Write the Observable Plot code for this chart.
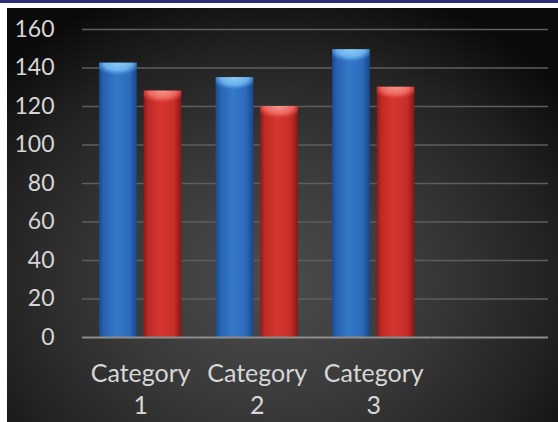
<!DOCTYPE html>
<html>
<head>
<meta charset="utf-8">
<script src="https://cdn.jsdelivr.net/npm/d3@7"></script>
<script src="https://cdn.jsdelivr.net/npm/@observablehq/plot@0.6"></script>
<style>
  html, body { margin: 0; padding: 0; background: #ffffff; width: 558px; height: 422px; overflow: hidden; }
  #topband { position: absolute; left: 0; top: 0; width: 558px; height: 3px; background: #2c2e7a; }
  #chart {
    position: absolute; left: 7px; top: 8px; width: 551px; height: 414px;
    background: radial-gradient(ellipse 68% 75% at 48% 66%, #4c4c4c 0%, #3a3a3a 40%, #222222 75%, #0a0a0a 100%);
  }
  #chart svg { display: block; overflow: visible; }
</style>
</head>
<body>
<div id="topband"></div>
<div id="chart"></div>
<script>
const categories = ["Category 1", "Category 2", "Category 3"];
const seriesNames = ["Series 1", "Series 2"];
const series1 = [142.5, 135, 149.5];
const series2 = [128, 120, 130];
const yTicks = [0, 20, 40, 60, 80, 100, 120, 140, 160];

const data = categories.flatMap((c, i) => [
  {category: c, series: seriesNames[0], value: series1[i]},
  {category: c, series: seriesNames[1], value: series2[i]}
]);

// one empty slot after the last category, as in the reference
const slots = [...categories, ""];
const gridCells = d3.cross(slots, yTicks.filter(t => t > 0));
const baseCells = slots.map(s => [s, 0]);

const svg = Plot.plot({
  width: 551,
  height: 414,
  marginLeft: 75,
  marginRight: 10,
  marginTop: 21,
  marginBottom: 85,
  style: {background: "transparent", color: "#d6d6d6", fontFamily: "Lato, 'Open Sans', sans-serif", fontSize: "23px"},
  fx: {domain: slots, padding: 0, round: false, label: null, axis: null},
  x: {domain: seriesNames, paddingInner: 0.155, paddingOuter: 0.384, round: false, axis: null},
  y: {domain: [0, 160], label: null, axis: null},
  color: {domain: seriesNames, range: ["url(#gradBlue)", "url(#gradRed)"]},
  marks: [
    Plot.ruleY(gridCells, {fx: d => d[0], y: d => d[1], stroke: "#5e5e5e", strokeWidth: 1.6}),
    Plot.barY(data, {fx: "category", x: "series", y: "value", fill: "series"}),
    Plot.barY(data.filter(d => d.series === seriesNames[0]), {fx: "category", x: "series", y1: "value", y2: "value", insetBottom: -13, fill: "url(#bevelBlue)"}),
    Plot.barY(data.filter(d => d.series === seriesNames[1]), {fx: "category", x: "series", y1: "value", y2: "value", insetBottom: -13, fill: "url(#bevelRed)"}),
    Plot.ruleY(baseCells, {fx: d => d[0], y: d => d[1], stroke: "#8e8e8e", strokeWidth: 2.2}),
    Plot.axisY({ticks: yTicks, tickSize: 0, tickPadding: 28, fontSize: 23, fill: "#d6d6d6"}),
    Plot.axisFx({anchor: "bottom", tickSize: 0, tickPadding: 22, fontSize: 25, lineHeight: 1.28, fill: "#d6d6d6", label: null, tickFormat: d => d.replace(" ", "\n")})
  ]
});

d3.select(svg).insert("defs", ":first-child").html(`
  <linearGradient id="gradBlue" x1="0" x2="1" y1="0" y2="0">
    <stop offset="0" stop-color="#1a4a8e"/>
    <stop offset="0.12" stop-color="#2862b0"/>
    <stop offset="0.45" stop-color="#3479c9"/>
    <stop offset="0.8" stop-color="#2d6bbb"/>
    <stop offset="1" stop-color="#17468a"/>
  </linearGradient>
  <linearGradient id="gradRed" x1="0" x2="1" y1="0" y2="0">
    <stop offset="0" stop-color="#8c1917"/>
    <stop offset="0.12" stop-color="#bd2a26"/>
    <stop offset="0.45" stop-color="#d6362f"/>
    <stop offset="0.8" stop-color="#c72e29"/>
    <stop offset="1" stop-color="#861715"/>
  </linearGradient>
  <radialGradient id="bevelBlue" cx="0.5" cy="0" r="1" gradientTransform="translate(0.5,0) scale(0.62,1) translate(-0.5,0)">
    <stop offset="0" stop-color="#8fcdf7" stop-opacity="1"/>
    <stop offset="0.6" stop-color="#6cb4ee" stop-opacity="0.95"/>
    <stop offset="0.85" stop-color="#4a92dc" stop-opacity="0.5"/>
    <stop offset="1" stop-color="#3479c9" stop-opacity="0"/>
  </radialGradient>
  <radialGradient id="bevelRed" cx="0.5" cy="0" r="1" gradientTransform="translate(0.5,0) scale(0.62,1) translate(-0.5,0)">
    <stop offset="0" stop-color="#f59890" stop-opacity="1"/>
    <stop offset="0.6" stop-color="#ec6a60" stop-opacity="0.95"/>
    <stop offset="0.85" stop-color="#e0463e" stop-opacity="0.5"/>
    <stop offset="1" stop-color="#d6362f" stop-opacity="0"/>
  </radialGradient>
`);

document.getElementById("chart").appendChild(svg);
</script>
</body>
</html>
